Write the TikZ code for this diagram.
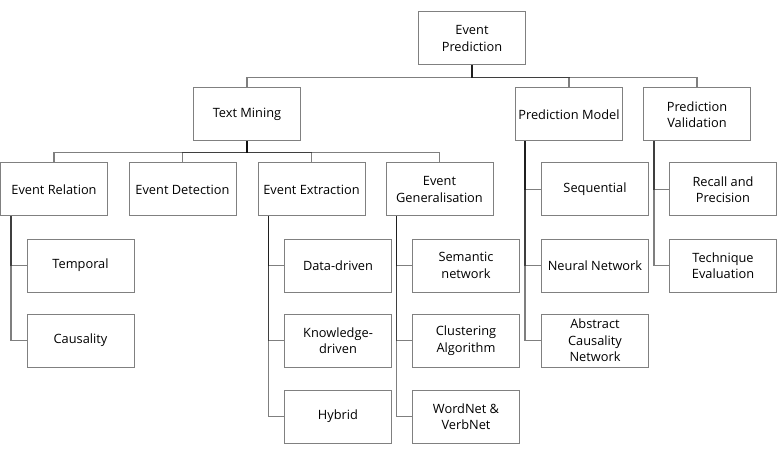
\documentclass[tikz,border=0pt]{standalone}
\usepackage{fontspec}
\setmainfont{Open Sans}
\begin{document}
\begin{tikzpicture}[x=1pt,y=-1pt,
    box/.style={shape=rectangle,draw=black!50,line width=1pt,minimum width=107pt,minimum height=53pt,
      align=center,inner sep=1pt,font=\fontsize{12.8}{16.5}\selectfont},
    link/.style={draw=black,draw opacity=0.5,line width=1.4pt}]
    \useasboundingbox (0,0) rectangle (777,468);
    % top levels
    \node[box] (root) at (472,38.5) {Event\\Prediction};
    \node[box] (tm) at (247,114.5) {Text Mining};
    \node[box] (pm) at (569,114.5) {Prediction Model};
    \node[box] (pv) at (697,114.5) {Prediction\\Validation};
    \node[box] (er) at (54,189.5) {Event Relation};
    \node[box] (ed) at (182.5,189.5) {Event Detection};
    \node[box] (ee) at (311.5,189.5) {Event Extraction};
    \node[box] (eg) at (439.5,189.5) {Event\\Generalisation};
    \node[box] (seq) at (595,189.5) {Sequential};
    \node[box] (rp) at (723,189.5) {Recall and\\Precision};
    % leaves
    \node[box] (temp) at (80.5,265.5) {Temporal};
    \node[box] (caus) at (80.5,340.5) {Causality};
    \node[box] (dd) at (338,265.5) {Data-driven};
    \node[box] (kd) at (338,340.5) {Knowledge-\\driven};
    \node[box] (hyb) at (338,416.5) {Hybrid};
    \node[box] (sem) at (466,265.5) {Semantic\\network};
    \node[box] (clus) at (466,340.5) {Clustering\\Algorithm};
    \node[box] (wn) at (466,416.5) {WordNet \&\\VerbNet};
    \node[box] (nn) at (595,265.5) {Neural Network};
    \node[box] (acn) at (595,340.5) {Abstract\\Causality\\Network};
    \node[box] (te) at (723,265.5) {Technique\\Evaluation};
    % buses
    \draw[link] (root.south) -- ++(0,12) -| (tm.north);
    \draw[link] (root.south) -- ++(0,12) -| (pm.north);
    \draw[link] (root.south) -- ++(0,12) -| (pv.north);
    \draw[link] (tm.south) -- ++(0,11) -| (er.north);
    \draw[link] (tm.south) -- ++(0,11) -| (ed.north);
    \draw[link] (tm.south) -- ++(0,11) -| (ee.north);
    \draw[link] (tm.south) -- ++(0,11) -| (eg.north);
    % trunks
    \draw[link] (er.south west) ++(11,0) |- (temp.west);
    \draw[link] (er.south west) ++(11,0) |- (caus.west);
    \draw[link] (ee.south west) ++(11,0) |- (dd.west);
    \draw[link] (ee.south west) ++(11,0) |- (kd.west);
    \draw[link] (ee.south west) ++(11,0) |- (hyb.west);
    \draw[link] (eg.south west) ++(11,0) |- (sem.west);
    \draw[link] (eg.south west) ++(11,0) |- (clus.west);
    \draw[link] (eg.south west) ++(11,0) |- (wn.west);
    \draw[link] (pm.south west) ++(10,0) |- (seq.west);
    \draw[link] (pm.south west) ++(10,0) |- (nn.west);
    \draw[link] (pm.south west) ++(10,0) |- (acn.west);
    \draw[link] (pv.south west) ++(11,0) |- (rp.west);
    \draw[link] (pv.south west) ++(11,0) |- (te.west);
\end{tikzpicture}
\end{document}
